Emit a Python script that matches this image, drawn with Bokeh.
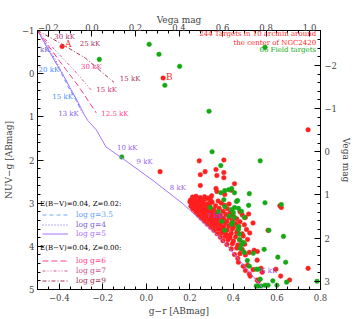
from bokeh.plotting import figure
from bokeh.models import (Range1d, LinearAxis, FixedTicker, CustomJSTickFormatter,
                          Label, Legend, LegendItem)
from bokeh.embed import file_html
from bokeh.resources import INLINE

# ---------------- data ----------------
# model tracks (g-r AB, NUV-g AB)
z02_g35_gr = [-0.5, -0.46, -0.42, -0.39, -0.36, -0.325, -0.30]
z02_g35_nuv = [-1.0, -0.65, -0.30, 0.0, 0.30, 0.60, 0.85]
z02_g4_gr = [-0.5, -0.455, -0.415, -0.385, -0.355, -0.32, -0.295]
z02_g4_nuv = [-1.0, -0.65, -0.30, 0.0, 0.30, 0.62, 0.90]
z02_g5_gr = [-0.5, -0.45, -0.41, -0.38, -0.35, -0.315, -0.285, -0.27, -0.23, -0.185,
             -0.113, 0.032, 0.167, 0.347, 0.536]
z02_g5_nuv = [-1.0, -0.55, -0.2, 0.05, 0.33, 0.65, 0.95, 1.08, 1.30, 1.70,
              1.95, 2.48, 3.01, 3.84, 4.97]
z00_g6_gr = [-0.5, -0.40, -0.31, -0.23]
z00_g6_nuv = [-1.0, -0.30, 0.30, 0.91]
z00_g7_gr = [-0.5, -0.42, -0.33, -0.248]
z00_g7_nuv = [-1.0, -0.55, -0.07, 0.41]
z00_g9_gr = [-0.5, -0.40, -0.28, -0.149]
z00_g9_nuv = [-1.0, -0.72, -0.36, 0.20]

red_pts = [
    (-0.387, -0.63), (0.077, 0.10), (0.743, 1.30), (0.063, 2.27),
    (0.243, 2.02), (0.356, 2.00), (0.27, 2.27), (0.32, 2.22), (0.248, 2.34), (0.324, 2.36),
    (0.356, 2.29), (0.356, 2.41), (0.248, 2.59), (0.405, 2.55), (0.32, 2.66), (0.324, 2.73),
    (0.36, 2.80), (0.30, 2.83), (0.39, 2.70),
    (0.613, 3.06), (0.62, 3.10), (0.559, 3.63), (0.595, 4.53), (0.617, 4.69), (0.658, 4.78),
    (0.743, 4.51), (0.509, 4.78), (0.514, 4.81), (0.473, 4.64), (0.477, 4.69), (0.509, 4.32),
    (0.495, 4.09), (0.51, 4.12), (0.473, 4.14), (0.527, 4.51), (0.532, 4.60), (0.42, 4.28),
    (0.423, 4.37),
    (0.212, 2.86), (0.228, 2.84), (0.247, 2.87), (0.268, 2.85), (0.285, 2.88),
    (0.203, 2.93), (0.219, 2.91), (0.236, 2.94), (0.255, 2.92), (0.274, 2.90), (0.296, 2.93), (0.33, 2.95),
    (0.207, 3.00), (0.224, 2.98), (0.241, 3.01), (0.262, 2.99), (0.281, 3.02), (0.302, 2.98), (0.345, 3.00),
    (0.205, 3.07), (0.221, 3.05), (0.238, 3.08), (0.256, 3.06), (0.276, 3.05), (0.292, 3.08), (0.318, 3.06),
    (0.36, 3.05), (0.38, 3.02),
    (0.215, 3.14), (0.233, 3.12), (0.251, 3.15), (0.27, 3.13), (0.288, 3.11), (0.31, 3.14), (0.335, 3.12),
    (0.372, 3.13),
    (0.228, 3.21), (0.246, 3.19), (0.264, 3.22), (0.283, 3.20), (0.302, 3.18), (0.325, 3.21), (0.352, 3.19),
    (0.385, 3.22), (0.43, 3.20),
    (0.239, 3.28), (0.257, 3.26), (0.276, 3.29), (0.296, 3.27), (0.317, 3.25), (0.34, 3.28), (0.365, 3.26),
    (0.398, 3.29), (0.44, 3.27), (0.47, 3.25),
    (0.252, 3.35), (0.27, 3.33), (0.29, 3.36), (0.31, 3.34), (0.33, 3.32), (0.355, 3.35), (0.38, 3.33),
    (0.415, 3.36), (0.455, 3.33),
    (0.266, 3.42), (0.285, 3.40), (0.305, 3.43), (0.325, 3.41), (0.345, 3.39), (0.37, 3.42), (0.395, 3.40),
    (0.43, 3.43),
    (0.28, 3.49), (0.30, 3.47), (0.32, 3.50), (0.34, 3.48), (0.362, 3.46), (0.388, 3.49), (0.41, 3.47),
    (0.45, 3.50), (0.49, 3.46),
    (0.295, 3.56), (0.315, 3.54), (0.335, 3.57), (0.355, 3.55), (0.378, 3.53), (0.40, 3.56), (0.425, 3.54),
    (0.31, 3.63), (0.33, 3.61), (0.35, 3.64), (0.372, 3.62), (0.395, 3.60), (0.42, 3.63), (0.46, 3.61),
    (0.325, 3.71), (0.345, 3.69), (0.367, 3.72), (0.39, 3.70), (0.415, 3.68), (0.44, 3.71), (0.475, 3.69),
    (0.34, 3.79), (0.362, 3.77), (0.385, 3.80), (0.41, 3.78), (0.445, 3.76),
    (0.352, 3.87), (0.375, 3.85), (0.40, 3.88), (0.43, 3.86), (0.465, 3.84),
    (0.37, 3.96), (0.395, 3.94), (0.42, 3.97), (0.452, 3.95),
    (0.39, 4.06), (0.415, 4.04), (0.44, 4.07),
    (0.405, 4.19), (0.43, 4.17), (0.455, 4.20),
    (0.445, 4.46), (0.465, 4.44), (0.455, 4.56), (0.49, 4.54),
    (0.215, 2.89), (0.232, 2.96), (0.25, 3.03), (0.265, 3.10), (0.28, 3.17), (0.298, 3.24), (0.313, 3.31),
    (0.26, 2.95), (0.29, 3.00), (0.245, 3.10), (0.27, 3.20), (0.30, 3.35), (0.32, 3.45), (0.34, 3.58),
    (0.36, 3.66), (0.38, 3.75), (0.20, 2.97), (0.212, 3.10), (0.225, 3.15),
]
red_gr = [p_[0] for p_ in red_pts]
red_nuv = [p_[1] for p_ in red_pts]

green_pts = [
    (0.013, -0.68), (0.058, -0.45), (0.153, -0.17), (-0.216, -0.33), (0.085, 0.27), (0.545, -0.61),
    (0.288, 0.87), (0.302, 1.81), (0.523, 2.02), (0.342, 2.13), (-0.113, 1.93),
    (0.36, 2.71), (0.378, 2.69), (0.392, 2.66), (0.405, 2.76), (0.342, 2.76), (0.473, 2.78),
    (0.545, 2.99), (0.62, 3.03), (0.419, 2.94), (0.356, 2.92), (0.437, 3.19), (0.405, 3.10),
    (0.396, 3.45), (0.423, 3.61), (0.428, 3.72), (0.446, 3.91), (0.432, 4.05), (0.45, 4.14),
    (0.491, 4.16), (0.541, 4.07), (0.563, 3.63), (0.604, 4.25), (0.64, 4.37), (0.464, 4.33),
    (0.505, 4.53), (0.514, 4.53), (0.473, 4.46), (0.523, 4.76), (0.505, 4.92), (0.514, 4.92),
    (0.527, 4.92), (0.545, 4.90), (0.559, 4.90), (0.581, 4.80), (0.60, 4.90), (0.644, 4.83),
    (0.784, 4.81), (0.293, 3.10), (0.414, 2.96), (0.36, 3.08), (0.392, 3.15), (0.40, 3.22),
    (0.423, 3.12), (0.405, 3.33), (0.45, 3.33), (0.347, 3.42), (0.423, 3.54), (0.392, 3.49),
    (0.36, 3.63), (0.63, 3.77), (0.428, 3.84), (0.437, 3.96), (0.38, 3.30), (0.47, 3.05),
    (0.33, 3.20),
]
green_gr = [p_[0] for p_ in green_pts]
green_nuv = [p_[1] for p_ in green_pts]

x_ticks = [-0.4, -0.2, 0.0, 0.2, 0.4, 0.6, 0.8]
y_ticks = [-1, 0, 1, 2, 3, 4, 5]
vx_ticks = [-0.2, 0.0, 0.2, 0.4, 0.6, 0.8, 1.0]
vy_ticks = [-2, -1, 0, 1, 2, 3]
VEGA_GR_OFFSET = 0.25
VEGA_NUVG_OFFSET = 1.81

# ---------------- colours ----------------
C35 = "#6fa8ff"
C4 = "#7a5cd6"
C5 = "#a673ff"
C6 = "#ff3d8b"
C7 = "#d05c9c"
C9 = "#a8325e"
RED = "#ff1f1f"
GREEN = "#14a814"
FONT = "DejaVu Serif"

p = figure(width=354, height=319, output_backend="svg", toolbar_location=None,
           x_range=Range1d(-0.5, 0.8), y_range=Range1d(5, -1),
           x_axis_location=None, y_axis_location=None,
           min_border_left=32, min_border_right=32, min_border_top=30, min_border_bottom=30)
p.xgrid.visible = False
p.ygrid.visible = False
p.outline_line_color = "black"
p.background_fill_color = "white"
p.border_fill_color = "white"

p.extra_x_ranges = {"vx": Range1d(-0.5 + VEGA_GR_OFFSET, 0.8 + VEGA_GR_OFFSET)}
p.extra_y_ranges = {"vy": Range1d(5 - VEGA_NUVG_OFFSET, -1 - VEGA_NUVG_OFFSET)}


def frange(a, b, s):
    out = []
    v = a
    while v <= b + 1e-9:
        out.append(round(v, 4))
        v += s
    return out


fmt1 = CustomJSTickFormatter(code="var t=Math.abs(tick)<1e-9?0:tick; return (t<0?'\u2212':'')+Math.abs(t).toFixed(1);")
fmt0 = CustomJSTickFormatter(code="var t=Math.round(tick); return (t<0?'\u2212':'')+Math.abs(t).toFixed(0);")


def style(ax, lab_standoff=1, tick_standoff=2):
    ax.major_tick_in = 6
    ax.major_tick_out = 0
    ax.minor_tick_in = 3
    ax.minor_tick_out = 0
    ax.major_label_text_font = FONT
    ax.major_label_text_font_size = "8.5px"
    ax.axis_label_text_font = FONT
    ax.axis_label_text_font_size = "9px"
    ax.axis_label_text_font_style = "normal"
    ax.major_label_standoff = tick_standoff
    ax.axis_label_standoff = lab_standoff
    ax.axis_line_color = "black"
    ax.major_tick_line_color = "black"
    ax.minor_tick_line_color = "black"


xb = LinearAxis(axis_label="g\u2212r [ABmag]",
                ticker=FixedTicker(ticks=x_ticks, minor_ticks=frange(-0.5, 0.8, 0.05)),
                formatter=fmt1)
xt = LinearAxis(axis_label="Vega mag", x_range_name="vx",
                ticker=FixedTicker(ticks=vx_ticks, minor_ticks=frange(-0.25, 1.05, 0.05)),
                formatter=fmt1)
yl = LinearAxis(axis_label="NUV\u2212g [ABmag]",
                ticker=FixedTicker(ticks=y_ticks, minor_ticks=frange(-1, 5, 0.2)),
                formatter=fmt0)
yr = LinearAxis(axis_label="Vega mag", y_range_name="vy",
                ticker=FixedTicker(ticks=vy_ticks, minor_ticks=frange(-2.8, 3.2, 0.2)),
                formatter=fmt0)
style(xb, lab_standoff=2, tick_standoff=4)
style(xt, lab_standoff=-4, tick_standoff=0)
style(yl, lab_standoff=5, tick_standoff=3)
style(yr, lab_standoff=1, tick_standoff=4)
p.add_layout(xb, "below")
p.add_layout(xt, "above")
p.add_layout(yl, "left")
p.add_layout(yr, "right")

# ---------------- data points ----------------
p.scatter(red_gr, red_nuv, size=4.6, fill_color=RED, line_color=RED, line_width=0.5)
p.scatter(green_gr, green_nuv, size=4.6, fill_color=GREEN, line_color=GREEN, line_width=0.5)

# ---------------- tracks ----------------
r35 = p.line(z02_g35_gr, z02_g35_nuv, line_color=C35, line_dash="4 3", line_width=1)
r4 = p.line(z02_g4_gr, z02_g4_nuv, line_color=C4, line_dash="1 2", line_width=1)
r5 = p.line(z02_g5_gr, z02_g5_nuv, line_color=C5, line_width=1)
r6 = p.line(z00_g6_gr, z00_g6_nuv, line_color=C6, line_dash="6 3", line_width=1)
r7 = p.line(z00_g7_gr, z00_g7_nuv, line_color=C7, line_dash="3 2 1 2 1 2", line_width=1)
r9 = p.line(z00_g9_gr, z00_g9_nuv, line_color=C9, line_dash="4 2 1 2", line_width=1)

# ---------------- legends ----------------
leg_specs = [
    ("log g=3.5", r35, "#5f9cff", 70),
    ("log g=4", r4, "#7a5cd6", 60),
    ("log g=5", r5, "#b070ff", 51),
    ("log g=6", r6, "#ff3d8b", 24),
    ("log g=7", r7, "#c8508e", 14),
    ("log g=9", r9, "#a0304f", 4),
]
for lab_, rr, col, yy in leg_specs:
    lg = Legend(items=[LegendItem(label=lab_, renderers=[rr])], location=(5, yy),
                glyph_width=26, glyph_height=9, label_height=9, label_standoff=8,
                padding=0, margin=0, spacing=0, border_line_alpha=0,
                background_fill_alpha=0, label_text_color=col,
                label_text_font=FONT, label_text_font_size="7.5px")
    p.add_layout(lg)


def lab(x, y, text, color, size="7px", align="left"):
    p.add_layout(Label(x=x, y=y, text=text, text_color=color, text_font=FONT,
                       text_font_size=size, text_baseline="middle", text_align=align))


lab(-0.488, 3.01, "E(B\u2212V)=0.04, Z=0.02:", "black")
lab(-0.488, 4.05, "E(B\u2212V)=0.04, Z=0.00:", "black")

# temperature labels
lab(-0.54, -0.54, "28 kK", "#6a5acd")
lab(-0.495, -0.08, "20 kK", "#4a8cff")
lab(-0.432, 0.54, "15 kK", "#4a8cff")
lab(-0.405, 0.94, "13 kK", "#8a5cf0")
lab(-0.135, 1.72, "10 kK", "#9a5cf5")
lab(-0.045, 2.04, "9 kK", "#9a5cf5")
lab(0.108, 2.66, "8 kK", "#9a5cf5")
lab(0.28, 3.29, "7 kK", "#9a40e8")
lab(0.527, 4.58, "6 kK", "#9a40e8")
lab(-0.423, -0.84, "30 kK", "#b03068")
lab(-0.306, -0.68, "25 kK", "#a8325e")
lab(-0.122, 0.13, "15 kK", "#a8325e")
lab(-0.30, -0.15, "30 kK", "#f03c8c")
lab(-0.23, 0.38, "15 kK", "#cc3377")
lab(-0.207, 0.94, "12.5 kK", "#ff3d8b")

lab(-0.374, -0.68, "A", RED, size="9px")
lab(0.09, 0.08, "B", RED, size="9px")

lab(0.78, -0.93, "244 Targets in 10 arcmin around", RED, align="right")
lab(0.78, -0.72, "the center of NGC2420", RED, align="right")
lab(0.78, -0.54, "66 Field targets", GREEN, align="right")

open("out.html", "w").write(file_html(p, INLINE))
